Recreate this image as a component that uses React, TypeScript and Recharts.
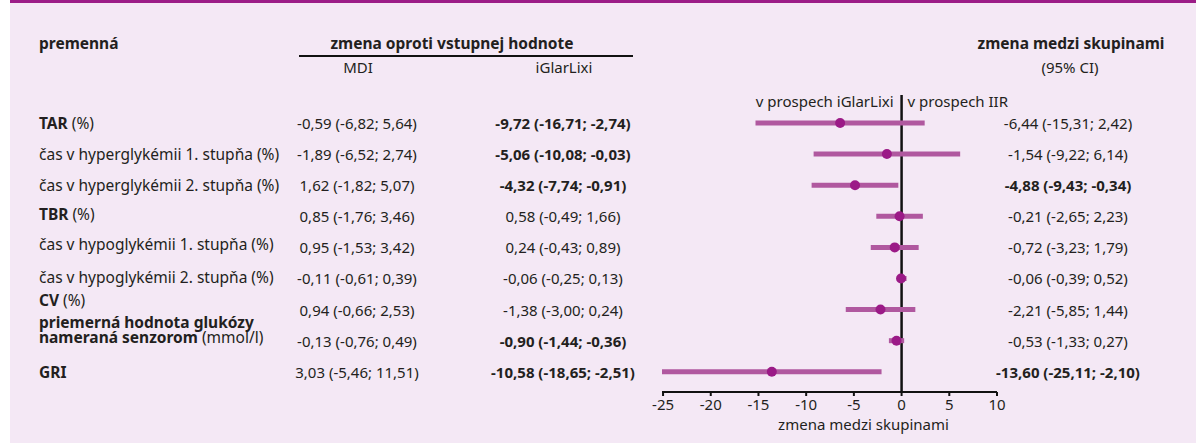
import React from 'react';
import { ComposedChart, Scatter, ErrorBar, XAxis, YAxis, ReferenceLine } from 'recharts';

// --- data ---
const variableNames = [
  'TAR',
  'čas v hyperglykémii 1. stupňa',
  'čas v hyperglykémii 2. stupňa',
  'TBR',
  'čas v hypoglykémii 1. stupňa',
  'čas v hypoglykémii 2. stupňa',
  'CV',
  'priemerná hodnota glukózy|nameraná senzorom',
  'GRI',
];
const variableUnits = ['(%)', '(%)', '(%)', '(%)', '(%)', '(%)', '(%)', '(mmol/l)', ''];
const variableBold = [true, false, false, true, false, false, true, true, true];

const mdiChange = [-0.59, -1.89, 1.62, 0.85, 0.95, -0.11, 0.94, -0.13, 3.03];
const mdiLower = [-6.82, -6.52, -1.82, -1.76, -1.53, -0.61, -0.66, -0.76, -5.46];
const mdiUpper = [5.64, 2.74, 5.07, 3.46, 3.42, 0.39, 2.53, 0.49, 11.51];

const iglarChange = [-9.72, -5.06, -4.32, 0.58, 0.24, -0.06, -1.38, -0.9, -10.58];
const iglarLower = [-16.71, -10.08, -7.74, -0.49, -0.43, -0.25, -3.0, -1.44, -18.65];
const iglarUpper = [-2.74, -0.03, -0.91, 1.66, 0.89, 0.13, 0.24, -0.36, -2.51];

const diffChange = [-6.44, -1.54, -4.88, -0.21, -0.72, -0.06, -2.21, -0.53, -13.6];
const diffLower = [-15.31, -9.22, -9.43, -2.65, -3.23, -0.39, -5.85, -1.33, -25.11];
const diffUpper = [2.42, 6.14, -0.34, 2.23, 1.79, 0.52, 1.44, 0.27, -2.1];

const xTicks = [-25, -20, -15, -10, -5, 0, 5, 10];

// --- layout / style ---
const FONT = '"Noto Sans", "Open Sans", sans-serif';
const TEXT = '#231f20';
const PANEL = '#f4e8f5';
const MAGENTA = '#9c1c87';
const CI_COLOR = '#b0589f';
const POINT = '#9b1a87';
const LABEL_NUDGE = [0, 0, 0, -2, -3, -1, -10, -11, 0];

const fmt = (v: number) => v.toFixed(2).replace('.', ',');
const cell = (est: number, lo: number, hi: number) => `${fmt(est)} (${fmt(lo)}; ${fmt(hi)})`;
const significant = (lo: number, hi: number) => hi < 0 || lo > 0;

const rows = variableNames.map((_, i) => ({
  row: i,
  est: diffChange[i],
  err: [diffChange[i] - diffLower[i], diffUpper[i] - diffChange[i]],
}));

// one table row, placed on the chart's own row scale (cy)
const TableRow = (props: any) => {
  const i = props.payload.row as number;
  const y = props.cy as number;
  const ly = y + LABEL_NUDGE[i];
  const parts = variableNames[i].split('|');
  const w = variableBold[i] ? 700 : 400;
  const unit = variableUnits[i];
  return (
    <g fontFamily={FONT} fontSize={15} fill={TEXT}>
      <g fontSize={15.5}>
        {parts.length === 1 ? (
          <text x={39} y={ly} dominantBaseline="central">
            <tspan fontWeight={w}>{parts[0]}</tspan>
            {unit && <tspan fontWeight={400}>{' ' + unit}</tspan>}
          </text>
        ) : (
          <text x={39} y={ly - 7.5} dominantBaseline="central">
            <tspan fontWeight={w}>{parts[0]}</tspan>
            <tspan x={39} dy={14.5} fontWeight={w}>{parts[1]}</tspan>
            {unit && <tspan fontWeight={400}>{' ' + unit}</tspan>}
          </text>
        )}
      </g>
      <text x={357} y={y} textAnchor="middle" dominantBaseline="central">
        {cell(mdiChange[i], mdiLower[i], mdiUpper[i])}
      </text>
      <text
        x={563}
        y={y}
        textAnchor="middle"
        dominantBaseline="central"
        fontWeight={significant(iglarLower[i], iglarUpper[i]) ? 700 : 400}
      >
        {cell(iglarChange[i], iglarLower[i], iglarUpper[i])}
      </text>
      <text
        x={1068}
        y={y}
        textAnchor="middle"
        dominantBaseline="central"
        fontWeight={significant(diffLower[i], diffUpper[i]) ? 700 : 400}
      >
        {cell(diffChange[i], diffLower[i], diffUpper[i])}
      </text>
    </g>
  );
};

const ZeroLabels = (props: any) => {
  const { x, y } = props.viewBox;
  return (
    <g fontFamily={FONT} fontSize={15} fill={TEXT}>
      <text x={x - 8} y={y + 6} textAnchor="end" dominantBaseline="central">
        v prospech iGlarLixi
      </text>
      <text x={x + 6} y={y + 6} textAnchor="start" dominantBaseline="central">
        v prospech IIR
      </text>
    </g>
  );
};

const AxisTitle = (props: any) => {
  const { x, y, width } = props.viewBox;
  return (
    <text
      x={x + width / 2 + 34}
      y={y + 32}
      textAnchor="middle"
      dominantBaseline="central"
      fontFamily={FONT}
      fontSize={15}
      fill={TEXT}
    >
      zmena medzi skupinami
    </text>
  );
};

const Dot = (props: any) => <circle cx={props.cx} cy={props.cy} r={5} fill={POINT} />;

export default function App() {
  return (
    <div style={{ position: 'relative', width: 1196, height: 443, background: '#fff' }}>
      <style>{`body { margin: 0; }`}</style>
      <div style={{ position: 'absolute', left: 10, top: 0, right: 0, bottom: 0, background: PANEL }} />
      <div style={{ position: 'absolute', left: 10, top: 0, right: 0, height: 3, background: MAGENTA }} />
      <div style={{ position: 'absolute', left: 0, top: 0 }}>
        <ComposedChart width={1196} height={443} data={rows} margin={{ top: 95, right: 199, bottom: 11, left: 662 }}>
          <XAxis
            type="number"
            dataKey="est"
            domain={[-25, 10]}
            ticks={xTicks}
            height={40}
            stroke="#111"
            strokeWidth={2}
            tickSize={4}
            tickMargin={3}
            tick={{ fill: TEXT, fontSize: 15, fontFamily: FONT }}
            label={<AxisTitle />}
          />
          <YAxis type="number" dataKey="row" domain={[-0.9, 8.65]} reversed hide />
          <Scatter data={rows} dataKey="est" shape={<TableRow />} isAnimationActive={false} />
          <ReferenceLine x={0} stroke="#111" strokeWidth={2.5} label={<ZeroLabels />} />
          <Scatter data={rows} dataKey="est" shape={<Dot />} isAnimationActive={false}>
            <ErrorBar dataKey="err" direction="x" width={0} strokeWidth={5} stroke={CI_COLOR} isAnimationActive={false} />
          </Scatter>
        </ComposedChart>
      </div>
      <svg
        width={1196}
        height={443}
        style={{ position: 'absolute', left: 0, top: 0, pointerEvents: 'none' }}
        fontFamily={FONT}
        fontSize={15.5}
        fill={TEXT}
      >
        <text x={39} y={43} fontWeight={700} dominantBaseline="central">premenná</text>
        <text x={452} y={43} fontWeight={700} textAnchor="middle" dominantBaseline="central">
          zmena oproti vstupnej hodnote
        </text>
        <line x1={299} x2={633} y1={56} y2={56} stroke="#111" strokeWidth={2} />
        <text x={358} y={67} fontSize={15} textAnchor="middle" dominantBaseline="central">MDI</text>
        <text x={564} y={67} fontSize={15} textAnchor="middle" dominantBaseline="central">iGlarLixi</text>
        <text x={1071} y={43} fontWeight={700} textAnchor="middle" dominantBaseline="central">
          zmena medzi skupinami
        </text>
        <text x={1070} y={67} fontSize={15} textAnchor="middle" dominantBaseline="central">(95% CI)</text>
      </svg>
    </div>
  );
}
